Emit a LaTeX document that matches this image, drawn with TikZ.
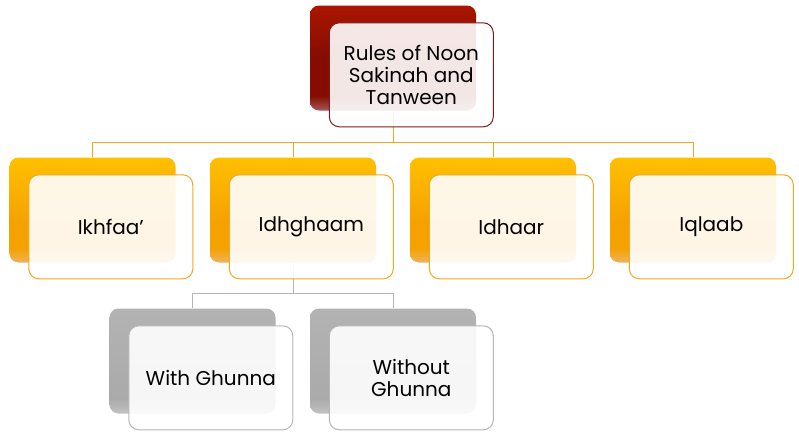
\documentclass[tikz,border=0pt]{standalone}
\usepackage{fontspec}
\setmainfont{Poppins}
\usetikzlibrary{positioning,backgrounds}

\definecolor{redtop}{HTML}{A91600}
\definecolor{reddark}{HTML}{860C00}
\definecolor{redfade}{HTML}{A25858}
\definecolor{redline}{HTML}{7C1B1B}
\definecolor{orangetop}{HTML}{FFC000}
\definecolor{orangedark}{HTML}{F5A200}
\definecolor{orangefade}{HTML}{EDB35C}
\definecolor{orangeline}{HTML}{F2A81A}
\definecolor{graytop}{HTML}{B3B3B3}
\definecolor{graydark}{HTML}{AAAAAA}
\definecolor{grayfade}{HTML}{C2C2C2}
\definecolor{grayline}{HTML}{B5B5B5}

\pgfdeclareverticalshading{redback}{100bp}{color(0bp)=(redfade); color(25bp)=(redfade);
  color(32bp)=(reddark); color(50bp)=(reddark); color(75bp)=(redtop); color(100bp)=(redtop)}
\pgfdeclareverticalshading{orangeback}{100bp}{color(0bp)=(orangefade); color(25bp)=(orangefade);
  color(32bp)=(orangedark); color(45bp)=(orangedark); color(75bp)=(orangetop); color(100bp)=(orangetop)}
\pgfdeclareverticalshading{grayback}{100bp}{color(0bp)=(grayfade); color(25bp)=(grayfade);
  color(32bp)=(graydark); color(75bp)=(graytop); color(100bp)=(graytop)}

\begin{document}
\begin{tikzpicture}[x=1pt,y=-1pt,
    backbox/.style={rectangle, rounded corners=9pt, inner sep=0pt,
      minimum width=166pt, minimum height=105pt},
    frontbox/.style={rectangle, rounded corners=10pt, inner sep=0pt, anchor=north west,
      minimum width=164pt, minimum height=104pt, line width=1pt, align=center,
      fill=white, fill opacity=0.9, text opacity=1,
      font=\fontsize{20}{22}\selectfont},
    link/.style={line width=1pt}]
      \pgfmathsetmacro{\dx}{19};
      \pgfmathsetmacro{\dy}{17};

      \useasboundingbox (0,0) rectangle (799,442);

      % top
      \node[backbox, shading=redback] (rulesback) at (393,58) {};
      \node[frontbox, draw=redline] (rules) at ([shift={(\dx,\dy)}]rulesback.north west)
      {Rules of Noon\\Sakinah and\\Tanween};

      % second row
      \node[backbox, shading=orangeback] (ikhfaaback) at (92.5,210) {};
      \node[backbox, shading=orangeback] (idhghaamback) at (293,210) {};
      \node[backbox, shading=orangeback] (idhaarback) at (493,210) {};
      \node[backbox, shading=orangeback] (iqlaabback) at (693,210) {};

      \node[frontbox, draw=orangeline] (ikhfaa) at ([shift={(\dx,\dy)}]ikhfaaback.north west) {Ikhfaa’};
      \node[frontbox, draw=orangeline] (idhghaam) at ([shift={(\dx,\dy)}]idhghaamback.north west) {Idhghaam};
      \node[frontbox, draw=orangeline] (idhaar) at ([shift={(\dx,\dy)}]idhaarback.north west) {Idhaar};
      \node[frontbox, draw=orangeline] (iqlaab) at ([shift={(\dx,\dy)}]iqlaabback.north west) {Iqlaab};

      % third row
      \node[backbox, shading=grayback] (withback) at (192.5,361) {};
      \node[backbox, shading=grayback] (withoutback) at (393,361) {};

      \node[frontbox, draw=grayline] (with) at ([shift={(\dx,\dy)}]withback.north west) {With Ghunna};
      \node[frontbox, draw=grayline] (without) at ([shift={(\dx,\dy)}]withoutback.north west)
      {Without\\Ghunna};

      \begin{scope}[on background layer]
        \draw[link, orangeline] (rulesback.south) -- ++(0,32) coordinate (bus);
        \draw[link, orangeline] (bus) -| (ikhfaaback.north);
        \draw[link, orangeline] (bus) -| (idhghaamback.north);
        \draw[link, orangeline] (bus) -| (idhaarback.north);
        \draw[link, orangeline] (bus) -| (iqlaabback.north);

        \draw[link, grayline] (idhghaamback.south) -- ++(0,31) coordinate (subbus);
        \draw[link, grayline] (subbus) -| (withback.north);
        \draw[link, grayline] (subbus) -| (withoutback.north);
      \end{scope}

      % \draw[help lines] (0,0) grid[step=50] (799,442);
\end{tikzpicture}
\end{document}
